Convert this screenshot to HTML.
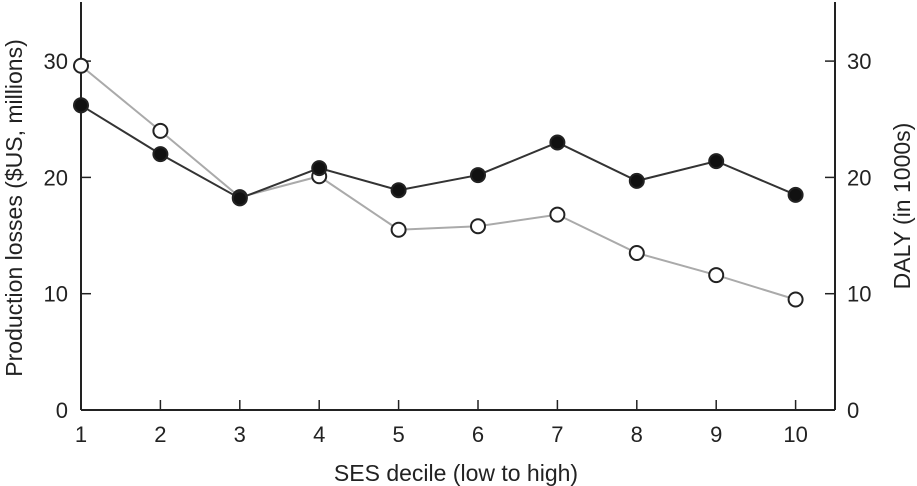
<!DOCTYPE html>
<html><head><meta charset="utf-8"><style>
body{margin:0;background:#fff}
svg{display:block;font-family:"Liberation Sans",Arial,sans-serif}
</style></head><body>
<svg id="chart" width="917" height="486" viewBox="0 0 917 486" xmlns="http://www.w3.org/2000/svg">
<g id="axes"></g>
<g id="series"></g>
</svg>
<script>
const categories = [1,2,3,4,5,6,7,8,9,10];
const productionLosses = [26.2,22.0,18.2,20.8,18.9,20.2,23.0,19.7,21.4,18.5];
const dalyValues = [29.6,24.0,18.3,20.1,15.5,15.8,16.8,13.5,11.6,9.5];
const yTicks = [0,10,20,30];
const NS="http://www.w3.org/2000/svg";
const x0=81,xStep=79.4,yBase=410,yScale=11.63,xRight=835,yTop=2;
function xPos(c){return x0+(c-1)*xStep;}
function yPos(v){return yBase-v*yScale;}
function mk(tag,attrs,parent,txt){const e=document.createElementNS(NS,tag);for(const k in attrs)e.setAttribute(k,attrs[k]);if(txt!==undefined)e.textContent=txt;parent.appendChild(e);return e;}
const ax=document.getElementById('axes');
let e;
e=mk('line',{x1:x0,y1:yTop,x2:x0,y2:yBase,stroke:'#222','stroke-width':2},ax);


e=mk('line',{x1:xRight,y1:yTop,x2:xRight,y2:yBase,stroke:'#222','stroke-width':2},ax);


e=mk('line',{x1:x0,y1:yBase,x2:xRight,y2:yBase,stroke:'#222','stroke-width':2},ax);


yTicks.forEach(t=>{
  const y=yPos(t);
  e=mk('line',{x1:x0,y1:y,x2:x0+10,y2:y,stroke:'#222','stroke-width':1.5},ax);
  
  
  e=mk('text',{x:x0-13,y:y+8,'text-anchor':'end','font-size':22,fill:'#222'},ax,String(t));
  
  
  e=mk('line',{x1:xRight-10,y1:y,x2:xRight,y2:y,stroke:'#222','stroke-width':1.5},ax);
  
  
  e=mk('text',{x:xRight+12,y:y+8,'text-anchor':'start','font-size':22,fill:'#222'},ax,String(t));
  
  
});
categories.forEach(c=>{
  const x=xPos(c);
  e=mk('line',{x1:x,y1:yBase,x2:x,y2:yBase-10,stroke:'#222','stroke-width':1.5},ax);
  
  
  e=mk('text',{x:x,y:yBase+32,'text-anchor':'middle','font-size':22,fill:'#222'},ax,String(c));
  
  
});
e=mk('text',{x:456,y:481,'text-anchor':'middle','font-size':23,fill:'#222'},ax,'SES decile (low to high)');


e=mk('text',{x:0,y:0,'text-anchor':'middle','font-size':23,fill:'#222',transform:'translate(22,208) rotate(-90)'},ax,'Production losses ($US, millions)');


e=mk('text',{x:0,y:0,'text-anchor':'middle','font-size':23,fill:'#222',transform:'translate(910,206) rotate(-90)'},ax,'DALY (in 1000s)');


const sg=document.getElementById('series');
function drawSeries(vals,lineColor,fill,name){
  const pts=vals.map((v,i)=>xPos(categories[i])+','+yPos(v)).join(' ');
  let p=mk('polyline',{points:pts,fill:'none',stroke:lineColor,'stroke-width':2},sg);
  
  
  vals.forEach((v,i)=>{
    let c=mk('circle',{cx:xPos(categories[i]),cy:yPos(v),r:7,fill:fill,stroke:'#222','stroke-width':2},sg);
    
    
  });
}
drawSeries(dalyValues,'#aaa','#fff','daly');
drawSeries(productionLosses,'#333','#111','production-losses');
</script>
</body></html>
